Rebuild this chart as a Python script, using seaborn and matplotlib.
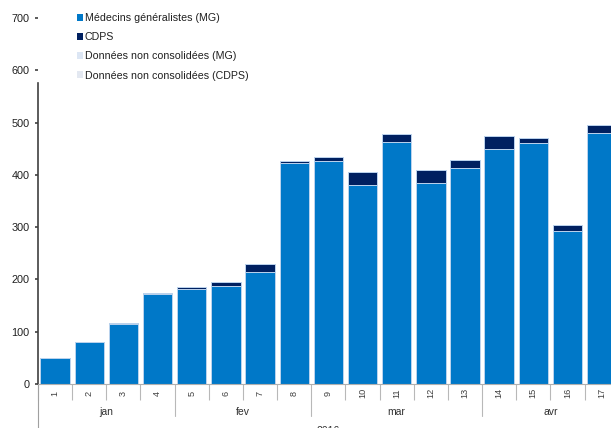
import numpy as np
import pandas as pd
import matplotlib
matplotlib.use("Agg")
import matplotlib.pyplot as plt
import matplotlib.patches as mpatches
import matplotlib.transforms as mtransforms
import seaborn as sns

# Weekly counts, 2016
weeks = [str(i) for i in range(1, 18)]
months = ["jan", "fev", "mar", "avr"]
weeks_per_month = [4, 4, 5, 4]
year_label = "2016"

mg = [50, 80, 114, 172, 181, 187, 215, 423, 427, 380, 463, 384, 414, 449, 461, 293, 481]
cdps = [0, 0, 3, 2, 4, 9, 14, 4, 8, 25, 15, 25, 15, 25, 9, 12, 14]
nc_mg = [0] * 17
nc_cdps = [0] * 17

series_names = [
    "Médecins généralistes (MG)",
    "CDPS",
    "Données non consolidées (MG)",
    "Données non consolidées (CDPS)",
]
series_colors = ["#0078C8", "#002060", "#DCE6F4", "#E3E8F1"]

sns.set_style("white")
plt.rcParams["font.family"] = ["Liberation Sans", "DejaVu Sans"]

fig = plt.figure(figsize=(6.11, 4.28), dpi=100)
W, H = 611, 428
ax = fig.add_axes([38 / W, 44 / H, 580.7 / W, 366 / H])

# stacked bars: draw cumulative totals from the top layer down
layers = [mg, cdps, nc_mg, nc_cdps]
cum = np.cumsum(np.array(layers, dtype=float), axis=0)
for k in range(len(layers) - 1, -1, -1):
    sns.barplot(
        x=weeks, y=cum[k], color=series_colors[k], saturation=1,
        width=0.86, edgecolor="#BDD4EE", linewidth=0.7 if k < 2 else 0,
        ax=ax,
    )

ax.set_xlim(-0.5, len(weeks) - 0.5)
ax.set_ylim(0, 700)
ax.set_yticks(range(0, 701, 100))
ax.set_xlabel("")
ax.set_ylabel("")

for s in ["top", "right"]:
    ax.spines[s].set_visible(False)
ax.spines["left"].set_color("#404040")
ax.spines["left"].set_linewidth(1.2)
ax.spines["left"].set_bounds(0, 576)
ax.spines["bottom"].set_color("#b0b0b0")
ax.spines["bottom"].set_linewidth(0.8)

ax.tick_params(axis="y", left=True, direction="out", length=2.5, width=1.2,
               color="#404040", labelsize=7.8, pad=3.5, labelcolor="#202020")
ax.tick_params(axis="x", which="major", bottom=True, length=0, pad=6.5,
               labelsize=6.6, labelcolor="#404040")
for lab in ax.get_xticklabels():
    lab.set_rotation(90)
    lab.set_va("center")

ax.set_xticks(np.arange(-0.5, len(weeks), 1.0), minor=True)
ax.tick_params(axis="x", which="minor", bottom=True, length=11.5, width=0.8,
               color="#b8b8b8", direction="out")

# month and year grouping below the week labels
trans = mtransforms.blended_transform_factory(ax.transData, ax.transAxes)
bounds = np.concatenate([[0], np.cumsum(weeks_per_month)]) - 0.5
for b in bounds[1:-1]:
    ax.plot([b, b], [-0.0437, -0.0874], color="#b8b8b8", lw=0.8,
            transform=trans, clip_on=False)
ax.plot([-0.5, -0.5], [0, -0.2], color="#a0a0a0", lw=0.8,
        transform=trans, clip_on=False)
for m, lo, hi in zip(months, bounds[:-1], bounds[1:]):
    ax.text((lo + hi) / 2, -0.0757, m, transform=trans, ha="center",
            va="center", fontsize=7.5, color="#303030")
ax.text((bounds[0] + bounds[-1]) / 2, -0.128, year_label, transform=trans,
        ha="center", va="center", fontsize=7.5, color="#303030")

handles = [mpatches.Patch(facecolor=c, edgecolor="none") for c in series_colors]
fig.legend(handles, series_names, loc="upper left",
           bbox_to_anchor=(76.5 / W, (H - 13) / H), frameon=False,
           fontsize=7.7, handlelength=0.6, handleheight=0.6,
           handletextpad=0.15, labelspacing=0.86, borderpad=0,
           borderaxespad=0, labelcolor="#202020")

fig.savefig("out.png", dpi=100)
